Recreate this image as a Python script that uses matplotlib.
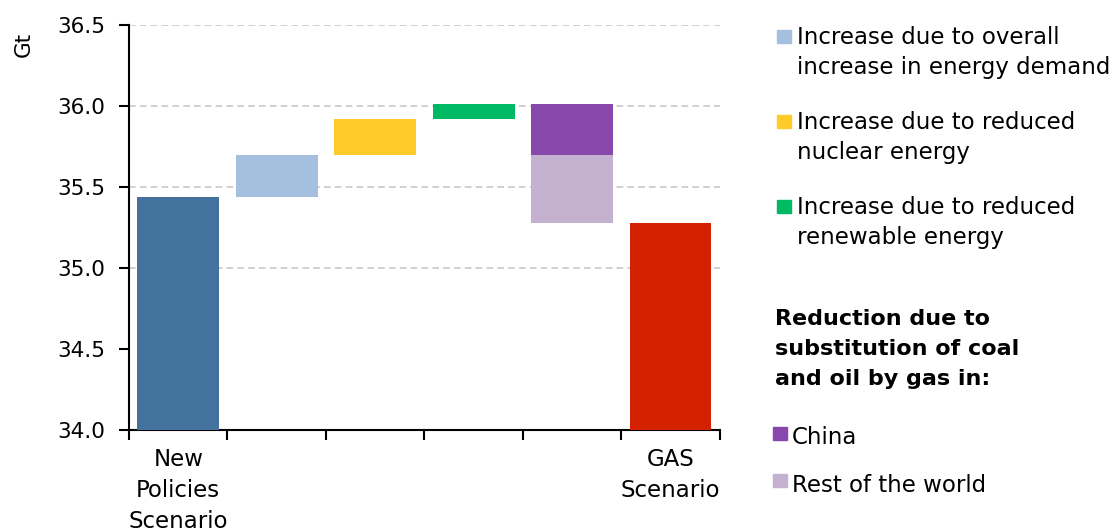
import numpy as np
import matplotlib
matplotlib.use("Agg")
import matplotlib.pyplot as plt
from matplotlib.patches import Rectangle

# waterfall data (Gt)
start_value = 35.44          # New Policies Scenario
steps = [0.26, 0.22, 0.09]   # demand, nuclear, renewables
china = -0.31
rest_world = -0.42
end_value = 35.28            # GAS Scenario

tick_labels = ["New\nPolicies\nScenario", "", "", "", "", "GAS\nScenario"]
labels = ["Increase due to overall\nincrease in energy demand",
          "Increase due to reduced\nnuclear energy",
          "Increase due to reduced\nrenewable energy",
          "China", "Rest of the world"]
heading = "Reduction due to\nsubstitution of coal\nand oil by gas in:"

c_start = "#44729F"
c_steps = ["#A5C0DE", "#FFCB2B", "#00BA63"]
c_china = "#8847AB"
c_rest = "#C3B1CF"
c_end = "#D42100"

W, H = 1119, 528
plt.rcParams["font.family"] = ["DejaVu Sans"]
fig = plt.figure(figsize=(W / 100, H / 100), dpi=100)
ax = fig.add_axes([0.1153, 0.1856, 0.528, 0.767])

w = 0.83
ax.bar(0, start_value - 34.0, bottom=34.0, width=w, color=c_start, zorder=3)
level = start_value
for i, (s, c) in enumerate(zip(steps, c_steps)):
    ax.bar(i + 1, s, bottom=level, width=w, color=c, zorder=3)
    level += s
ax.bar(4, china, bottom=level, width=w, color=c_china, zorder=3)
level += china
ax.bar(4, rest_world, bottom=level, width=w, color=c_rest, zorder=3)
ax.bar(5, end_value - 34.0, bottom=34.0, width=w, color=c_end, zorder=3)

ax.set_xlim(-0.5, 5.5)
ax.set_ylim(34.0, 36.5)
ax.set_yticks(np.arange(34.0, 36.51, 0.5))
ax.set_yticklabels(["%.1f" % v for v in np.arange(34.0, 36.51, 0.5)], fontsize=15.5)
ax.set_xticks(np.arange(-0.5, 6.0, 1.0))
ax.set_xticklabels([])
ax.set_xticks(np.arange(6), minor=True)
ax.set_xticklabels(tick_labels, minor=True, fontsize=16.5, linespacing=1.45)
ax.tick_params(axis="x", which="minor", length=0, pad=13)
ax.tick_params(axis="x", which="major", length=7, width=1.5)
ax.tick_params(axis="y", length=7, width=1.5, pad=10)

for y in np.arange(35.0, 36.51, 0.5):
    ax.axhline(y, color="#C8C8C8", linestyle=(0, (4, 2.5)), linewidth=1.2, zorder=1)

for s in ["top", "right"]:
    ax.spines[s].set_visible(False)
for s in ["left", "bottom"]:
    ax.spines[s].set_linewidth(1.5)

ax.text(-0.179, 0.951, "Gt", transform=ax.transAxes, rotation=90,
        ha="center", va="center", fontsize=15.5)

# manual legend, positions in pixels
def px(x, y):
    return x / W, 1 - y / H

def entry(x_box, y_box, x_text, y_text, color, text):
    bx, by = px(x_box, y_box + 13)
    fig.add_artist(Rectangle((bx, by), 14 / W, 13 / H, transform=fig.transFigure,
                             color=color))
    tx, ty = px(x_text, y_text)
    fig.text(tx, ty, text, ha="left", va="top", fontsize=16.5, linespacing=1.4)

entry(777, 30, 797, 26, c_steps[0], labels[0])
entry(777, 115, 797, 111, c_steps[1], labels[1])
entry(777, 200, 797, 196, c_steps[2], labels[2])
hx, hy = px(775, 309)
fig.text(hx, hy, heading, ha="left", va="top", fontsize=16, linespacing=1.62,
         fontweight="bold")
entry(773, 427, 792, 426, c_china, labels[3])
entry(773, 474, 792, 474, c_rest, labels[4])

fig.savefig("out.png", dpi=100)
